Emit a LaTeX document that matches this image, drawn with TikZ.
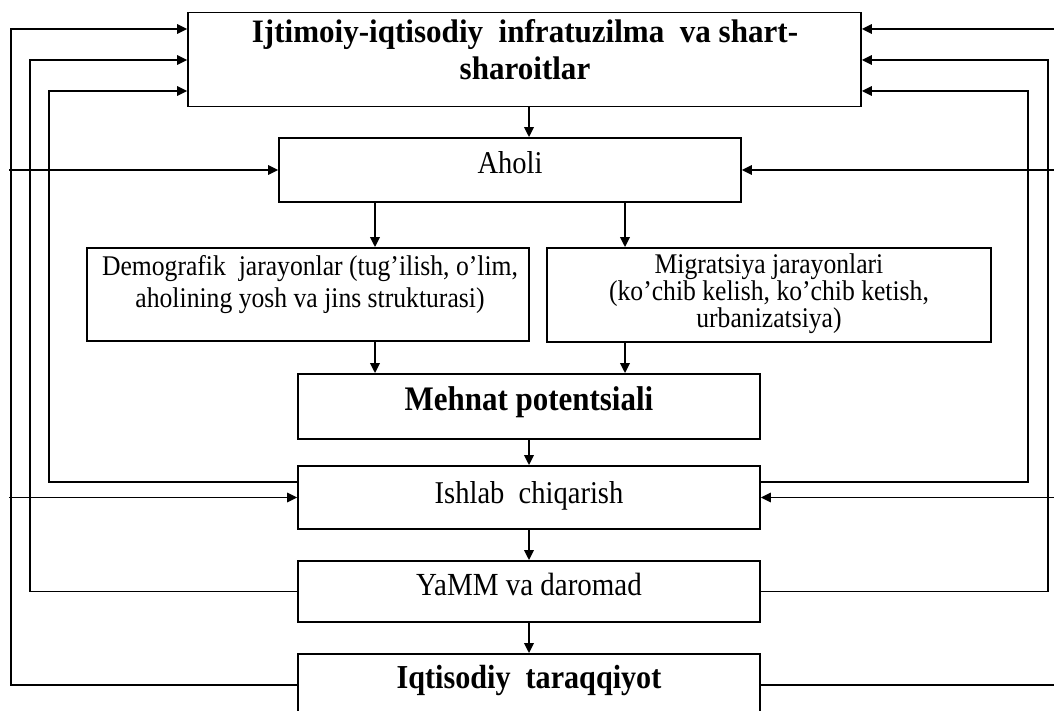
\documentclass[tikz,border=0pt]{standalone}
\usepackage{fontspec}
\setmainfont{Liberation Serif}
\newfontfamily\nf[FakeStretch=0.9]{Liberation Serif}
\newfontfamily\tf[FakeStretch=0.95]{Liberation Serif}
\usetikzlibrary{arrows.meta,calc}
\begin{document}
\begin{tikzpicture}[x=1pt,y=-1pt]
\tikzset{
 box/.style={draw, line width=1.8pt, rectangle, inner sep=0pt},
 arr/.style={line width=2pt, -{Triangle[length=10pt,width=9.5pt]}},
 fba/.style={line width=1.7pt, -{Triangle[length=10pt,width=9.5pt]}},
 lbl/.style={anchor=base, inner sep=0pt},
 big/.style={font=\nf\fontsize{31.7pt}{34pt}\selectfont},
 small/.style={font=\nf\fontsize{28.5pt}{30pt}\selectfont},
}
\useasboundingbox (0,0) rectangle (1054,711);
% boxes
\node[box, minimum width=673pt, minimum height=94pt] (top) at (524.5,59.5) {};
\node[box, minimum width=462pt, minimum height=64pt] (aholi) at (510,170) {};
\node[box, minimum width=442pt, minimum height=93pt] (demo) at (308,294.5) {};
\node[box, minimum width=444pt, minimum height=94pt] (migr) at (769,295) {};
\node[box, minimum width=462pt, minimum height=65pt] (mehnat) at (529,406.5) {};
\node[box, minimum width=462pt, minimum height=63pt] (ishlab) at (529,497.5) {};
\node[box, minimum width=462pt, minimum height=61pt] (yamm) at (529,591.5) {};
\node[box, minimum width=462pt, minimum height=62pt] (iqt) at (529,685) {};
% texts
\node[lbl, font=\tf\bfseries\fontsize{32.7pt}{37pt}\selectfont] (topa) at (525,43) {Ijtimoiy-iqtisodiy~ infratuzilma~ va shart-};
\node[lbl, font=\tf\bfseries\fontsize{32.7pt}{37pt}\selectfont] (topb) at (525,80) {sharoitlar};
\node[lbl, big] (aholit) at (510,174) {Aholi};
\node[lbl, small] (demoa) at (310,276) {Demografik~ jarayonlar (tug’ilish, o’lim,};
\node[lbl, small] (demob) at (310,307) {aholining yosh va jins strukturasi)};
\node[lbl, small] (migra) at (769,273) {Migratsiya jarayonlari};
\node[lbl, small] (migrb) at (769,300) {(ko’chib kelish, ko’chib ketish,};
\node[lbl, small] (migrc) at (769,327) {urbanizatsiya)};
\node[lbl, font=\nf\bfseries\fontsize{34.4pt}{37pt}\selectfont] (mehnatt) at (529,410) {Mehnat potentsiali};
\node[lbl, big] (ishlabt) at (529,503) {Ishlab~ chiqarish};
\node[lbl, font=\nf\fontsize{32.2pt}{34pt}\selectfont] (yammt) at (529,595) {YaMM va daromad};
\node[lbl, font=\nf\bfseries\fontsize{33.5pt}{36pt}\selectfont] (iqtt) at (529,688) {Iqtisodiy~ taraqqiyot};
% helper coordinates
\coordinate (xc) at (529,0);
\coordinate (xd) at (375,0);
\coordinate (xm) at (625,0);
\coordinate (xs) at (9,0);
\coordinate (xl1) at (11,0);
\coordinate (xl2) at (30,0);
\coordinate (xl3) at (49,0);
\coordinate (xe) at (1060,0);
\coordinate (xr1) at (1060,0);
\coordinate (xr2) at (1048,0);
\coordinate (xr3) at (1028,0);
\coordinate (ya) at (0,29);
\coordinate (yb) at (0,60);
\coordinate (yc) at (0,91);
\coordinate (yf) at (0,482);
% main flow
\draw[arr] (top.south -| xc) -- (aholi.north -| xc);
\draw[arr] (aholi.south -| xd) -- (demo.north -| xd);
\draw[arr] (aholi.south -| xm) -- (migr.north -| xm);
\draw[arr] (demo.south -| xd) -- (mehnat.north -| xd);
\draw[arr] (migr.south -| xm) -- (mehnat.north -| xm);
\draw[arr] (mehnat.south -| xc) -- (ishlab.north -| xc);
\draw[arr] (ishlab.south -| xc) -- (yamm.north -| xc);
\draw[arr] (yamm.south -| xc) -- (iqt.north -| xc);
% left feedback
\draw[fba] (iqt.west) -- (iqt.west -| xl1) -- (xl1 |- ya) -- (top.west |- ya);
\draw[fba] (yamm.west) -- (yamm.west -| xl2) -- (xl2 |- yb) -- (top.west |- yb);
\draw[fba] (ishlab.west |- yf) -- (xl3 |- yf) -- (xl3 |- yc) -- (top.west |- yc);
\draw[fba] (xs |- aholi.west) -- (aholi.west);
\draw[fba] (xs |- ishlab.west) -- (ishlab.west);
% right feedback
\draw[fba] (iqt.east) -- (iqt.east -| xr1) -- (xr1 |- ya) -- (top.east |- ya);
\draw[fba] (yamm.east) -- (yamm.east -| xr2) -- (xr2 |- yb) -- (top.east |- yb);
\draw[fba] (ishlab.east |- yf) -- (xr3 |- yf) -- (xr3 |- yc) -- (top.east |- yc);
\draw[fba] (xe |- aholi.east) -- (aholi.east);
\draw[fba] (xe |- ishlab.east) -- (ishlab.east);
\end{tikzpicture}
\end{document}
